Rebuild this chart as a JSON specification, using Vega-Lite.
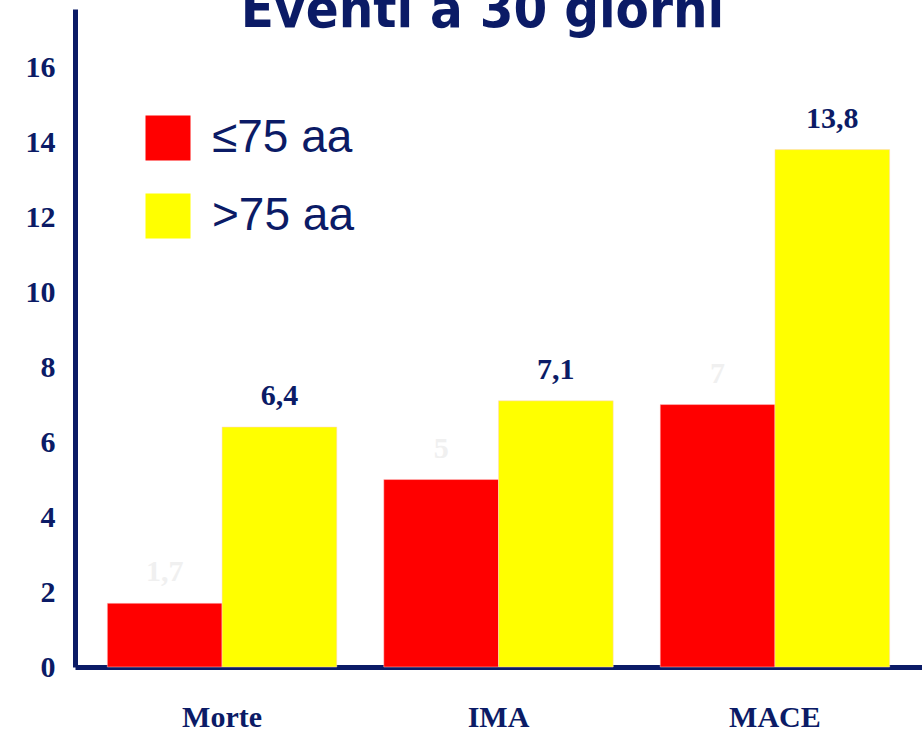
{
  "$schema": "https://vega.github.io/schema/vega-lite/v6.json",
  "width": 847,
  "height": 658,
  "autosize": {"type": "none"},
  "padding": {"left": 75, "top": 9, "right": 0, "bottom": 64},
  "background": "white",
  "config": {"view": {"stroke": null}},
  "title": {
    "text": "Eventi a 30 giorni",
    "font": "Liberation Sans Narrow, DejaVu Sans Condensed, Liberation Sans",
    "fontSize": 54,
    "fontWeight": "bold",
    "color": "#0b1b66",
    "anchor": "middle",
    "baseline": "alphabetic",
    "offset": -72,
    "dx": -16
  },
  "data": {
    "values": [
      {"cat": "Morte", "group": "≤75 aa", "value": 1.7, "label": "1,7"},
      {"cat": "Morte", "group": ">75 aa", "value": 6.4, "label": "6,4"},
      {"cat": "IMA", "group": "≤75 aa", "value": 5, "label": "5"},
      {"cat": "IMA", "group": ">75 aa", "value": 7.1, "label": "7,1"},
      {"cat": "MACE", "group": "≤75 aa", "value": 7, "label": "7"},
      {"cat": "MACE", "group": ">75 aa", "value": 13.8, "label": "13,8"}
    ]
  },
  "encoding": {
    "x": {
      "field": "cat",
      "type": "nominal",
      "sort": ["Morte", "IMA", "MACE"],
      "scale": {"paddingInner": 0.17, "paddingOuter": 0.117},
      "axis": {
        "title": null,
        "labelAngle": 0,
        "labelFont": "Liberation Serif",
        "labelFontSize": 30,
        "labelFontWeight": "bold",
        "labelColor": "#0b1b66",
        "labelPadding": 35,
        "labelBaseline": "top",
        "ticks": false,
        "domainColor": "#0b1b66",
        "domainWidth": 5
      }
    },
    "xOffset": {
      "field": "group",
      "type": "nominal",
      "sort": ["≤75 aa", ">75 aa"],
      "scale": {"paddingInner": 0, "paddingOuter": 0}
    },
    "y": {
      "field": "value",
      "type": "quantitative",
      "scale": {"domain": [0, 17.55], "nice": false},
      "axis": {
        "title": null,
        "values": [0, 2, 4, 6, 8, 10, 12, 14, 16],
        "grid": false,
        "ticks": false,
        "labelFont": "Liberation Serif",
        "labelFontSize": 30,
        "labelFontWeight": "bold",
        "labelColor": "#0b1b66",
        "labelPadding": 20,
        "domainColor": "#0b1b66",
        "domainWidth": 5
      }
    }
  },
  "layer": [
    {
      "mark": {"type": "bar", "stroke": "#ffd0d0", "strokeWidth": 0.5},
      "encoding": {
        "color": {
          "field": "group",
          "type": "nominal",
          "sort": ["≤75 aa", ">75 aa"],
          "scale": {"domain": ["≤75 aa", ">75 aa"], "range": ["#ff0000", "#ffff00"]},
          "legend": {
            "title": null,
            "orient": "none",
            "legendX": 70,
            "legendY": 106,
            "padding": 0,
            "symbolType": "square",
            "symbolSize": 2025,
            "symbolStrokeWidth": 0,
            "symbolOpacity": 1,
            "labelFont": "Liberation Sans Narrow, Liberation Sans",
            "labelFontSize": 46,
            "labelColor": "#0b1b66",
            "labelOffset": 21,
            "rowPadding": 32,
            "labelLimit": 400
          }
        }
      }
    },
    {
      "mark": {
        "type": "text",
        "font": "Liberation Serif",
        "fontSize": 30,
        "fontWeight": "bold",
        "baseline": "middle",
        "dy": -31
      },
      "encoding": {
        "text": {"field": "label"},
        "color": {
          "condition": {"test": "datum.group === '>75 aa'", "value": "#0b1b66"},
          "value": "#f0f0f0"
        }
      }
    }
  ]
}
